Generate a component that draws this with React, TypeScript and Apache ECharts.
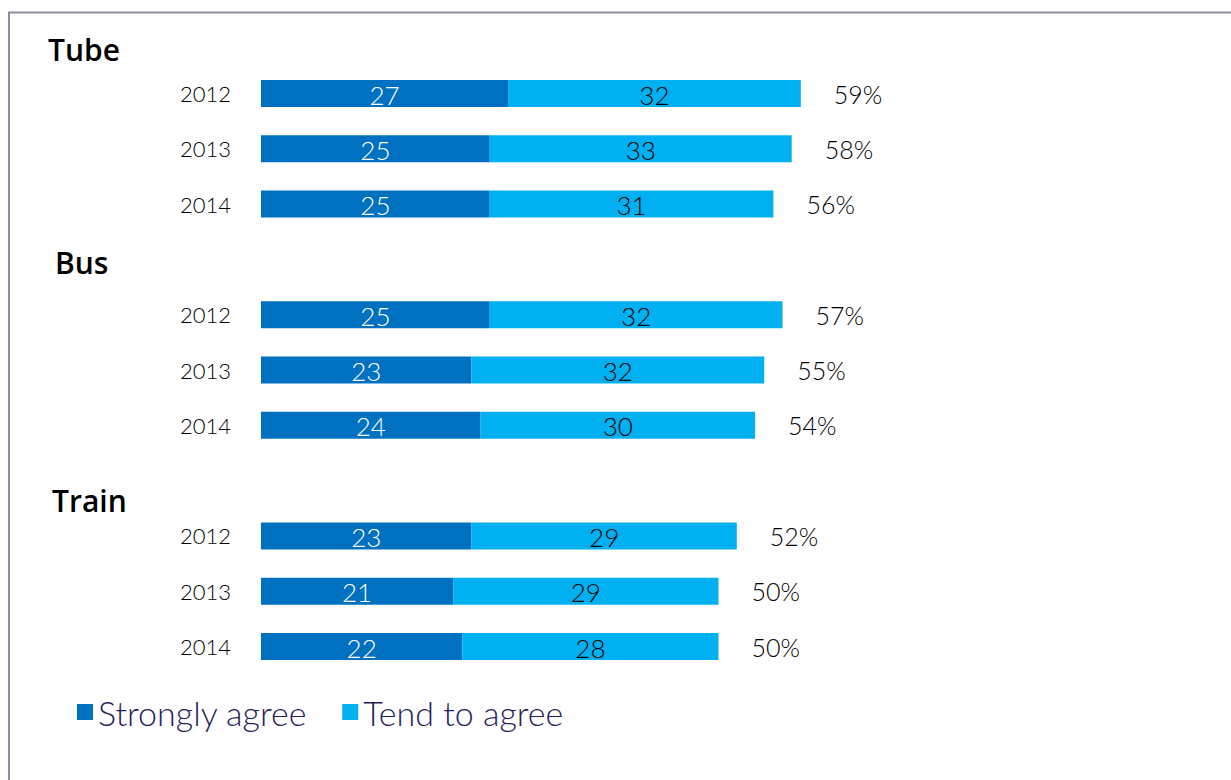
import React, { useEffect, useRef } from "react";
import * as echarts from "echarts";

const groups = ["Tube", "Bus", "Train"];
const years = ["2012", "2013", "2014"];
const stronglyAgree = [
  [27, 25, 25],
  [25, 23, 24],
  [23, 21, 22],
];
const tendToAgree = [
  [32, 33, 31],
  [32, 32, 30],
  [29, 29, 28],
];
const totals = [
  [59, 58, 56],
  [57, 55, 54],
  [52, 50, 50],
];
const seriesNames = ["Strongly agree", "Tend to agree"];

const DARK = "#0070C0";
const LIGHT = "#00B0F0";
const FONT = "Lato, 'Open Sans', sans-serif";
const HEAD_FONT = "'Open Sans', Lato, sans-serif";

export default function App() {
  const ref = useRef<HTMLDivElement>(null);
  useEffect(() => {
    if (!ref.current) return;
    const chart = echarts.init(ref.current, undefined, { renderer: "svg" });

    const cats: string[] = [];
    const sa: (number | null)[] = [];
    const ta: (number | null)[] = [];
    const tot: (number | null)[] = [];
    groups.forEach((g, gi) => {
      if (gi > 0) {
        cats.push("gap" + gi + "|");
        sa.push(null);
        ta.push(null);
        tot.push(null);
      }
      years.forEach((y, yi) => {
        cats.push(g + "|" + y);
        sa.push(stronglyAgree[gi][yi]);
        ta.push(tendToAgree[gi][yi]);
        tot.push(totals[gi][yi]);
      });
    });

    const headingPos = [
      { x: 48, y: 49 },
      { x: 55, y: 262 },
      { x: 52, y: 500 },
    ];

    chart.setOption({
      animation: false,
      backgroundColor: "#ffffff",
      textStyle: { fontFamily: FONT },
      grid: { left: 261, right: 55, top: 65.85, bottom: 105.85, containLabel: false },
      xAxis: {
        type: "value",
        min: 0,
        max: 100,
        show: false,
      },
      yAxis: {
        type: "category",
        inverse: true,
        data: cats,
        axisLine: { show: false },
        axisTick: { show: false },
        splitLine: { show: false },
        axisLabel: {
          margin: 30,
          fontSize: 22,
          fontWeight: 300,
          color: "#000000",
          fontFamily: FONT,
          formatter: (v: string) => v.split("|")[1] || "",
        },
      },
      legend: {
        left: 72,
        top: 690,
        itemWidth: 16,
        itemHeight: 16,
        itemGap: 35,
        icon: "rect",
        textStyle: { fontSize: 34, fontWeight: 300, color: "#2a1d5c", fontFamily: FONT },
        data: seriesNames,
      },
      series: [
        {
          name: seriesNames[0],
          type: "bar",
          stack: "s",
          barWidth: 27,
          data: sa,
          itemStyle: { color: DARK },
          label: {
            show: true,
            position: "inside",
            color: "#ffffff",
            fontSize: 26,
            fontWeight: 300,
            fontFamily: FONT,
            offset: [0, 1],
          },
        },
        {
          name: seriesNames[1],
          type: "bar",
          stack: "s",
          barWidth: 27,
          data: ta,
          itemStyle: { color: LIGHT },
          label: {
            show: true,
            position: "inside",
            color: "#000000",
            fontSize: 26,
            fontWeight: 300,
            fontFamily: FONT,
            offset: [0, 1],
          },
        },
        {
          name: "Total",
          type: "bar",
          barWidth: 27,
          barGap: "-100%",
          data: tot,
          itemStyle: { color: "rgba(0,0,0,0)" },
          silent: true,
          label: {
            show: true,
            position: "right",
            distance: 33,
            color: "#000000",
            fontSize: 25,
            fontWeight: 300,
            fontFamily: FONT,
            formatter: (p: any) => p.value + "%",
          },
        },
      ],
      graphic: [
        {
          type: "rect",
          shape: { x: 9, y: 12.5, width: 1400, height: 900 },
          style: { fill: "none", stroke: "#8f8da2", lineWidth: 2 },
          silent: true,
        },
        ...groups.map((g, i) => ({
          type: "text",
          x: headingPos[i].x,
          y: headingPos[i].y,
          style: {
            text: g,
            fontSize: 30,
            fontWeight: 600,
            fontFamily: HEAD_FONT,
            fill: "#000000",
            verticalAlign: "middle",
          },
        })),
      ],
    });
    return () => chart.dispose();
  }, []);
  return (
    <div
      ref={ref}
      style={{ position: "absolute", left: 0, top: 0, width: 1231, height: 780 }}
    />
  );
}
